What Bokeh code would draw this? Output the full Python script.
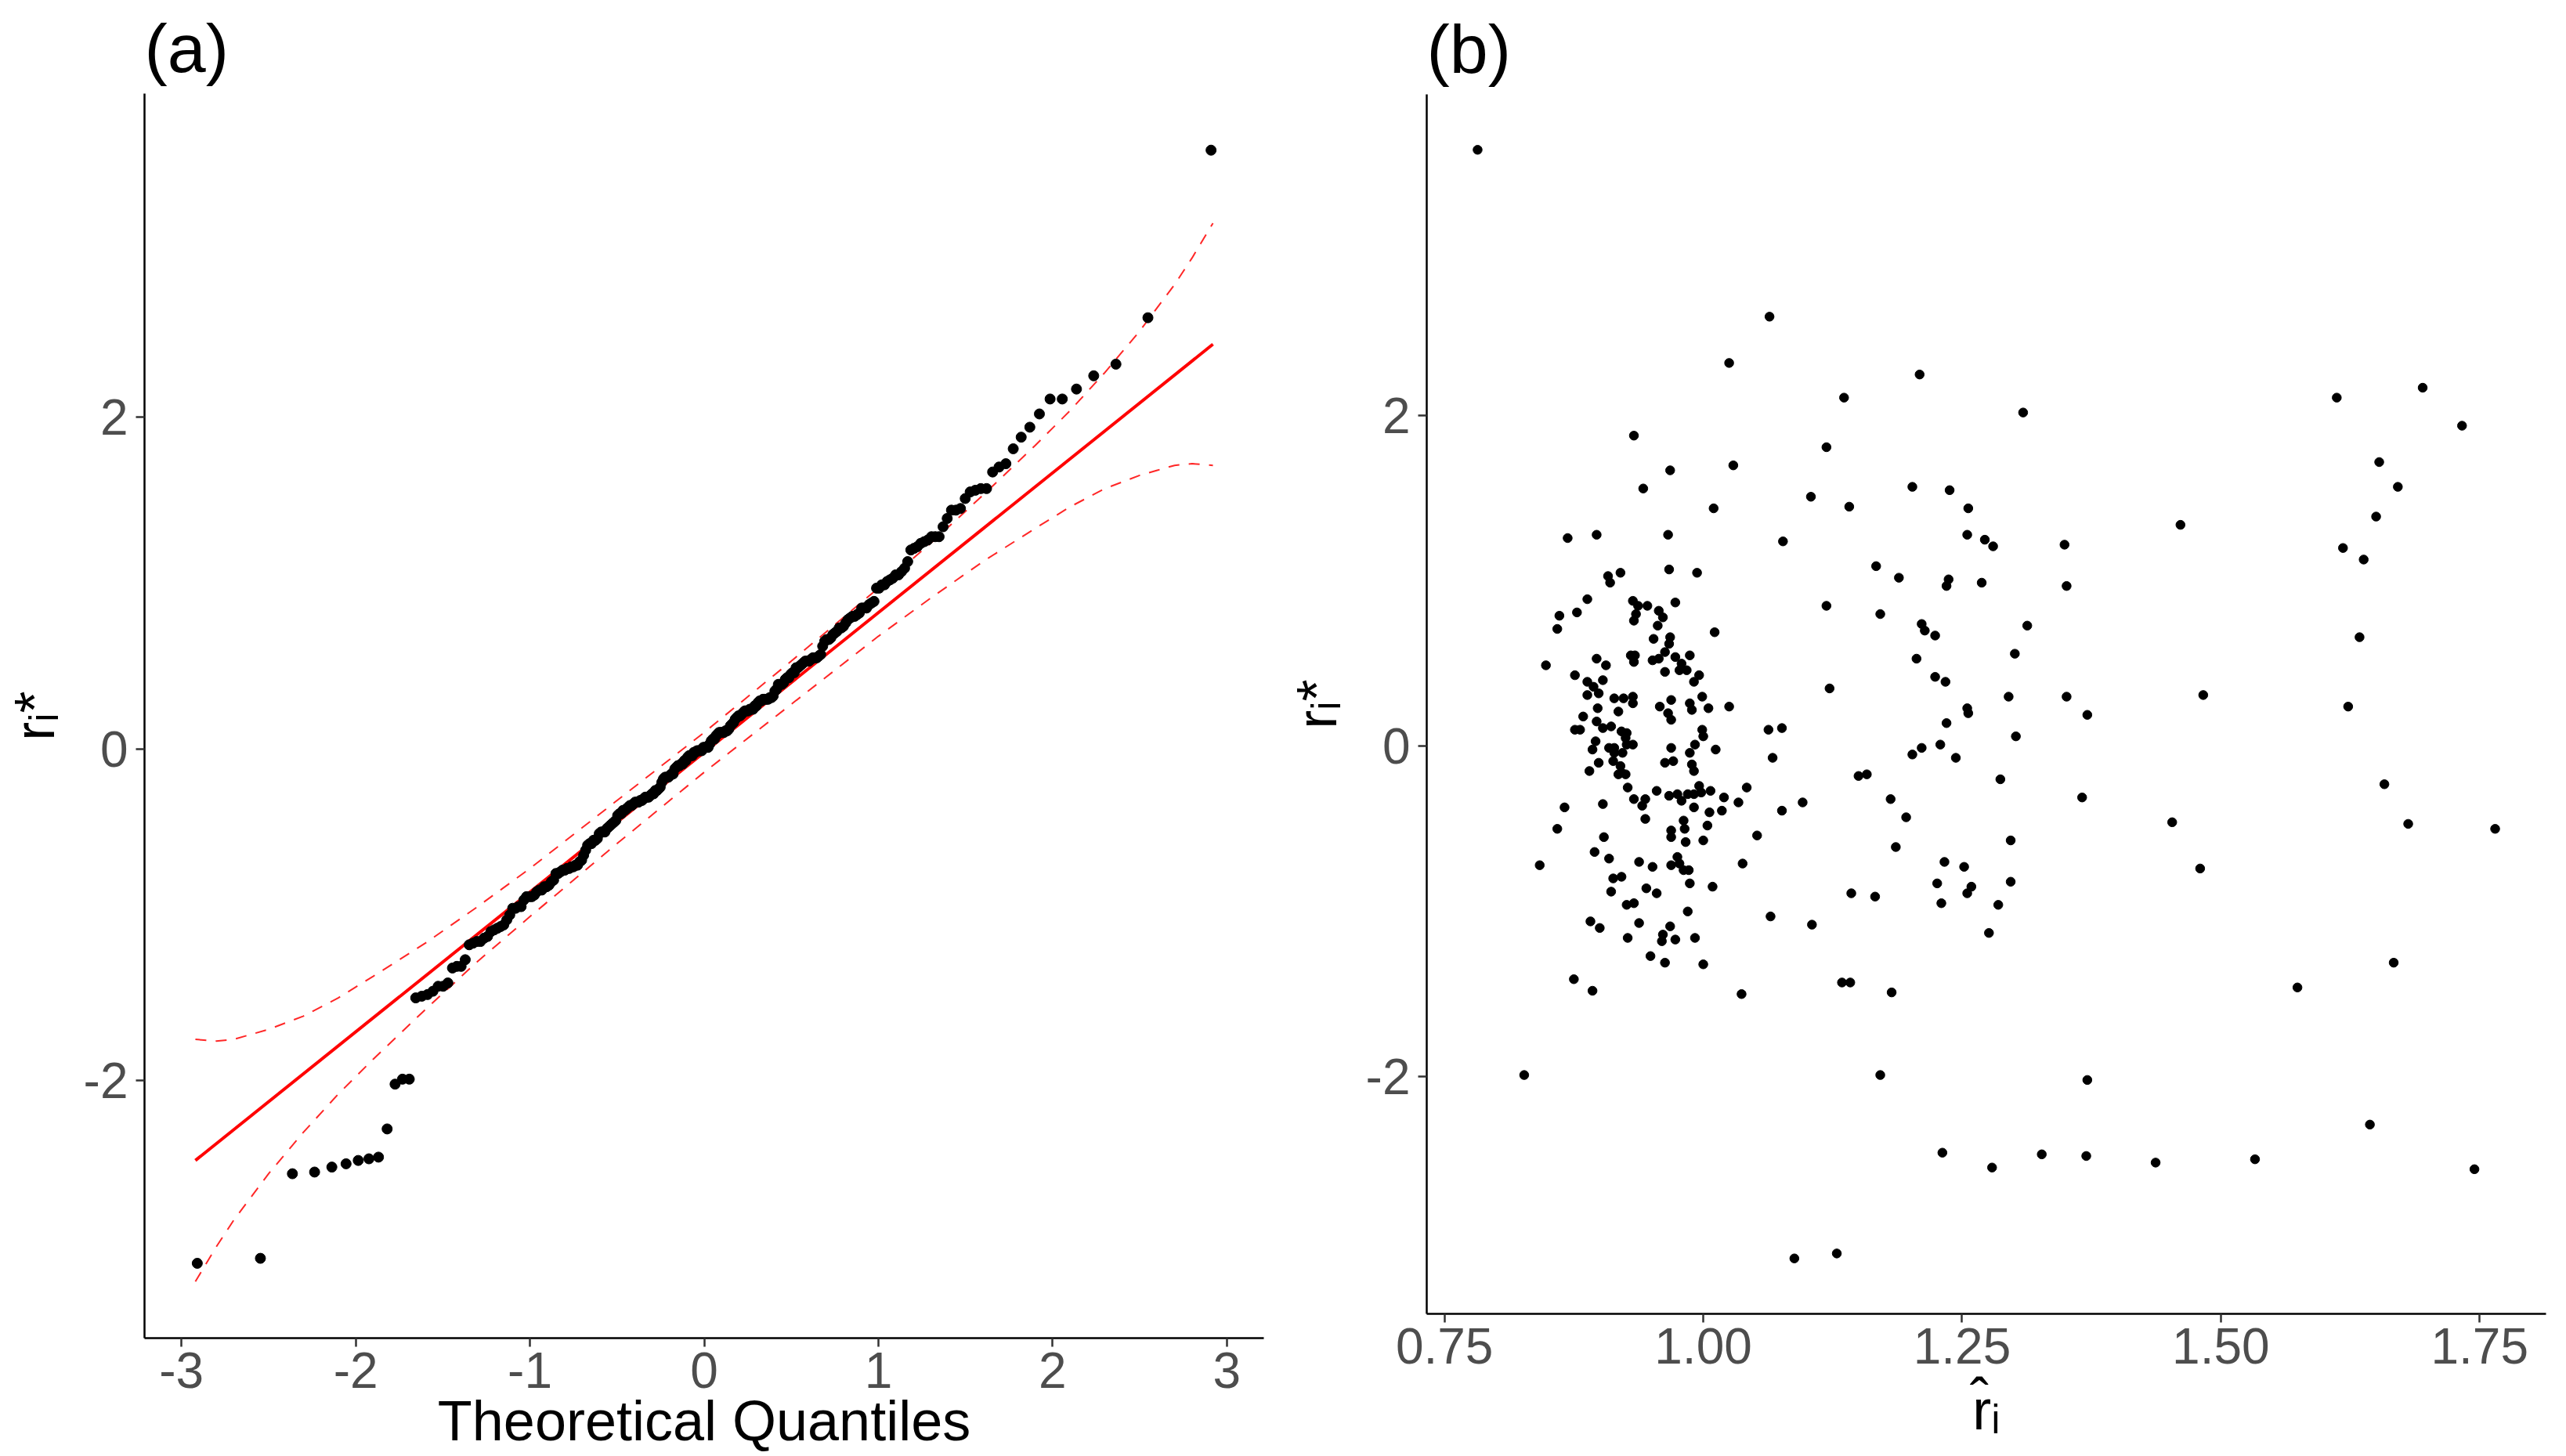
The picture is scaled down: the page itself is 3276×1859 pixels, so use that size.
from statistics import NormalDist
from bokeh.plotting import figure
from bokeh.layouts import row
from bokeh.models import Range1d, FixedTicker, CustomJSTickFormatter
from bokeh.embed import file_html
from bokeh.resources import INLINE

FONT = "Liberation Sans"

# ---------------- Panel (b) data: fitted values (x) and residuals r_i* (y)
fit_top = [0.782, 1.064, 1.025, 0.933, 1.029, 0.968, 1.209, 1.136, 1.309, 1.119,
           1.612, 1.695, 1.733, 1.653]
res_top = [3.61, 2.60, 2.32, 1.88, 1.70, 1.67, 2.25, 2.11, 2.02, 1.81,
           2.11, 2.17, 1.94, 1.72]

fit_right = [1.671, 1.650, 1.618, 1.638, 1.634, 1.483, 1.623, 1.658, 1.681, 1.765,
             1.480, 1.667, 1.574]
res_right = [1.57, 1.39, 1.20, 1.13, 0.66, 0.31, 0.24, -0.23, -0.47, -0.50,
             -0.74, -1.31, -1.46]

fit_low = [0.827, 1.171, 1.371, 1.644, 1.231, 1.279, 1.327, 1.370, 1.437, 1.533,
           1.745, 1.088, 1.129]
res_low = [-1.99, -1.99, -2.02, -2.29, -2.46, -2.55, -2.47, -2.48, -2.52, -2.50,
           -2.56, -3.10, -3.07]

fit_mid = [1.104, 1.202, 1.238, 1.141, 1.256, 1.461, 1.255, 1.272, 1.280, 1.349,
           1.167, 1.189, 1.237, 1.235, 1.269, 1.351, 1.119, 1.171, 1.211, 1.214,
           1.224, 1.313, 1.206, 1.301, 1.224, 1.234, 1.122, 1.295, 1.351, 1.255,
           1.256, 1.371, 1.235, 1.302, 1.211, 1.229, 1.202, 1.244, 1.150, 1.158,
           1.287, 1.181, 1.366, 1.196, 1.453, 1.297, 1.186, 1.233, 1.252, 1.226,
           1.259, 1.255, 1.297, 1.143, 1.166, 1.230, 1.285, 1.105, 1.276, 1.134,
           1.142, 1.182]
res_mid = [1.51, 1.57, 1.55, 1.45, 1.44, 1.34, 1.28, 1.25, 1.21, 1.22,
           1.09, 1.02, 1.01, 0.97, 0.99, 0.97, 0.85, 0.80, 0.74, 0.70,
           0.67, 0.73, 0.53, 0.56, 0.42, 0.39, 0.35, 0.30, 0.30, 0.23,
           0.20, 0.19, 0.14, 0.06, -0.01, 0.01, -0.05, -0.07, -0.18, -0.17,
           -0.20, -0.32, -0.31, -0.43, -0.46, -0.57, -0.61, -0.70, -0.73, -0.83,
           -0.85, -0.89, -0.82, -0.89, -0.91, -0.95, -0.96, -1.08, -1.13, -1.43,
           -1.43, -1.49]

fit_core_hi = [0.942, 1.010, 0.869, 0.897, 0.966, 1.077, 0.967, 0.994, 0.908, 0.920,
               0.910, 0.888, 0.932, 0.973, 0.937, 0.946, 0.957, 0.961, 0.861, 0.878,
               0.935, 0.933, 0.956, 0.859, 1.011, 0.952, 0.968, 0.967, 0.963, 0.930,
               0.934, 0.933, 0.987, 0.973, 0.897, 0.951, 0.957, 0.848, 0.906, 0.979,
               0.977, 0.984, 0.963, 0.996, 0.876, 0.888, 0.903, 0.991, 0.894, 0.888,
               0.899, 0.999, 0.914, 0.923, 0.932, 0.932, 0.969, 0.987, 0.989, 1.025,
               0.898, 0.958, 1.005, 0.918, 0.966, 0.969, 0.884, 0.897, 0.903, 0.911,
               0.876, 0.881, 0.921, 0.926, 0.999, 1.000, 1.063, 1.076, 0.925, 0.896]
res_core_hi = [1.56, 1.44, 1.26, 1.28, 1.28, 1.24, 1.07, 1.05, 1.03, 1.05,
               0.99, 0.89, 0.88, 0.87, 0.85, 0.85, 0.82, 0.78, 0.79, 0.81,
               0.80, 0.76, 0.73, 0.71, 0.69, 0.65, 0.66, 0.62, 0.57, 0.55,
               0.55, 0.51, 0.55, 0.54, 0.53, 0.52, 0.53, 0.49, 0.49, 0.50,
               0.46, 0.46, 0.45, 0.43, 0.43, 0.39, 0.40, 0.39, 0.36, 0.31,
               0.32, 0.30, 0.29, 0.29, 0.30, 0.26, 0.28, 0.26, 0.22, 0.24,
               0.23, 0.24, 0.23, 0.21, 0.20, 0.16, 0.18, 0.15, 0.11, 0.12,
               0.10, 0.10, 0.09, 0.08, 0.10, 0.06, 0.10, 0.11, 0.05, 0.03]

fit_core_lo = [0.893, 0.909, 0.914, 0.926, 0.932, 0.969, 0.992, 0.987, 1.012, 0.914,
               0.922, 1.067, 0.899, 0.913, 0.963, 0.971, 0.989, 0.991, 0.920, 0.890,
               0.921, 0.918, 0.925, 0.927, 0.996, 1.042, 0.955, 0.967, 0.975, 0.979,
               0.985, 0.991, 0.998, 1.007, 0.944, 0.933, 1.020, 1.034, 1.096, 0.866,
               0.903, 0.941, 0.991, 1.006, 1.018, 1.076, 0.944, 0.859, 1.004, 0.981,
               0.982, 0.969, 0.969, 0.904, 1.000, 0.983, 1.052, 0.895, 0.909, 0.842,
               0.938, 0.951, 0.969, 0.975, 0.977, 0.981, 0.986, 1.038, 0.913, 0.921,
               0.987, 0.945, 1.009, 0.911, 0.955, 0.926, 0.933, 0.985, 1.065, 0.891,
               0.900, 0.938, 0.968, 0.961, 0.960, 0.927, 0.973, 0.992, 0.949, 0.963,
               1.000, 0.875, 0.893, 1.037]
res_core_lo = [-0.02, -0.01, -0.01, 0.01, 0.01, -0.01, 0.01, -0.04, -0.02, -0.04,
               -0.04, -0.07, -0.10, -0.09, -0.10, -0.09, -0.11, -0.15, -0.12, -0.15,
               -0.16, -0.17, -0.17, -0.25, -0.24, -0.25, -0.27, -0.30, -0.29, -0.33,
               -0.29, -0.29, -0.28, -0.27, -0.32, -0.32, -0.31, -0.34, -0.34, -0.37,
               -0.35, -0.36, -0.37, -0.40, -0.39, -0.39, -0.44, -0.50, -0.48, -0.45,
               -0.50, -0.51, -0.55, -0.55, -0.57, -0.58, -0.54, -0.64, -0.68, -0.72,
               -0.70, -0.73, -0.72, -0.67, -0.71, -0.75, -0.75, -0.71, -0.80, -0.79,
               -0.83, -0.86, -0.85, -0.88, -0.89, -0.96, -0.95, -1.00, -1.03, -1.06,
               -1.10, -1.07, -1.09, -1.14, -1.18, -1.16, -1.17, -1.16, -1.27, -1.31,
               -1.32, -1.41, -1.48, -1.50]

fitted = fit_top + fit_right + fit_low + fit_mid + fit_core_hi + fit_core_lo
resid = res_top + res_right + res_low + res_mid + res_core_hi + res_core_lo

# ---------------- Panel (a): normal QQ plot of the same residuals
n = len(resid)
sample_q = sorted(resid)
nd = NormalDist()
theo_q = [nd.inv_cdf((i + 0.5) / n) for i in range(n)]

# reference line
line_x = [-2.92, 2.92]
line_y = [-2.48, 2.44]

# confidence envelope
band_z = [-2.92, -2.8, -2.7, -2.6, -2.5, -2.3, -2.1, -1.9, -1.6, -1.3, -1.0, -0.5, 0.0,
          0.5, 1.0, 1.3, 1.6, 1.9, 2.1, 2.3, 2.5, 2.6, 2.7, 2.8, 2.92]
band_upper = [-1.75, -1.76, -1.75, -1.72, -1.69, -1.61, -1.50, -1.37, -1.17, -0.95, -0.72,
              -0.31, 0.10, 0.53, 0.97, 1.24, 1.53, 1.83, 2.04, 2.27, 2.52, 2.66, 2.80,
              2.96, 3.17]
band_lower = [-3.21, -3.00, -2.84, -2.70, -2.56, -2.31, -2.08, -1.87, -1.57, -1.28, -1.01,
              -0.57, -0.14, 0.27, 0.68, 0.91, 1.13, 1.33, 1.46, 1.57, 1.65, 1.68, 1.71,
              1.72, 1.71]

xticks_a = [-3, -2, -1, 0, 1, 2, 3]
yticks = [-2, 0, 2]
xticks_b = [0.75, 1.0, 1.25, 1.5, 1.75]


def padded(lo, hi, f=0.05):
    d = (hi - lo) * f
    return Range1d(lo - d, hi + d)


def style(p):
    p.frame_align = False
    p.title.text_font = FONT
    p.title.text_font_size = "88px"
    p.title.text_font_style = "normal"
    p.title.text_color = "black"
    p.title.align = "left"
    p.title.standoff = 18
    p.xgrid.visible = False
    p.ygrid.visible = False
    p.outline_line_color = None
    p.background_fill_color = "white"
    p.border_fill_color = "white"
    for ax in p.axis:
        ax.axis_line_color = "black"
        ax.axis_line_width = 2.5
        ax.major_tick_line_color = "#333333"
        ax.major_tick_line_width = 2.5
        ax.major_tick_out = 11
        ax.major_tick_in = 0
        ax.minor_tick_line_color = None
        ax.major_label_text_font = FONT
        ax.major_label_text_font_size = "64px"
        ax.major_label_text_color = "#4D4D4D"
        ax.axis_label_text_font = FONT
        ax.axis_label_text_font_size = "72px"
        ax.axis_label_text_font_style = "normal"
        ax.axis_label_text_color = "black"
    p.xaxis.major_label_standoff = 7
    p.yaxis.major_label_standoff = 10
    p.yaxis.axis_label_standoff = 20


# ---------------- figure (a)
p1 = figure(width=1637, height=1859, title="(a)",
            x_range=padded(min(band_z + theo_q), max(band_z + theo_q)),
            y_range=padded(min(band_lower + sample_q), max(band_upper + sample_q)),
            output_backend="svg", toolbar_location=None,
            min_border_left=180, min_border_right=24, min_border_top=118, min_border_bottom=151)
style(p1)
p1.xaxis.axis_label = "Theoretical Quantiles"
p1.yaxis.axis_label = "rᵢ*"
p1.xaxis.axis_label_standoff = -1
p1.xaxis.ticker = FixedTicker(ticks=xticks_a)
p1.yaxis.ticker = FixedTicker(ticks=yticks)
p1.xaxis.formatter = CustomJSTickFormatter(code="return tick.toFixed(0);")
p1.yaxis.formatter = CustomJSTickFormatter(code="return tick.toFixed(0);")

p1.line(band_z, band_upper, line_color="red", line_width=2, line_dash="14 12", line_alpha=0.85)
p1.line(band_z, band_lower, line_color="red", line_width=2, line_dash="14 12", line_alpha=0.85)
p1.line(line_x, line_y, line_color="red", line_width=4)
p1.scatter(theo_q, sample_q, size=13, color="black")

# ---------------- figure (b)
p2 = figure(width=1639, height=1859, title="(b)",
            x_range=padded(min(fitted), max(fitted)),
            y_range=padded(min(resid), max(resid)),
            output_backend="svg", toolbar_location=None,
            min_border_left=181, min_border_right=26, min_border_top=120, min_border_bottom=182)
style(p2)
p2.xaxis.axis_label = "r\u0302ᵢ"
p2.yaxis.axis_label = "rᵢ*"
p2.xaxis.axis_label_standoff = 16
p2.xaxis.ticker = FixedTicker(ticks=xticks_b)
p2.xaxis.formatter = CustomJSTickFormatter(code="return tick.toFixed(2);")
p2.yaxis.ticker = FixedTicker(ticks=yticks)
p2.yaxis.formatter = CustomJSTickFormatter(code="return tick.toFixed(0);")

p2.scatter(fitted, resid, size=11.5, color="black")

layout = row(p1, p2)
open("out.html", "w").write(file_html(layout, INLINE))
